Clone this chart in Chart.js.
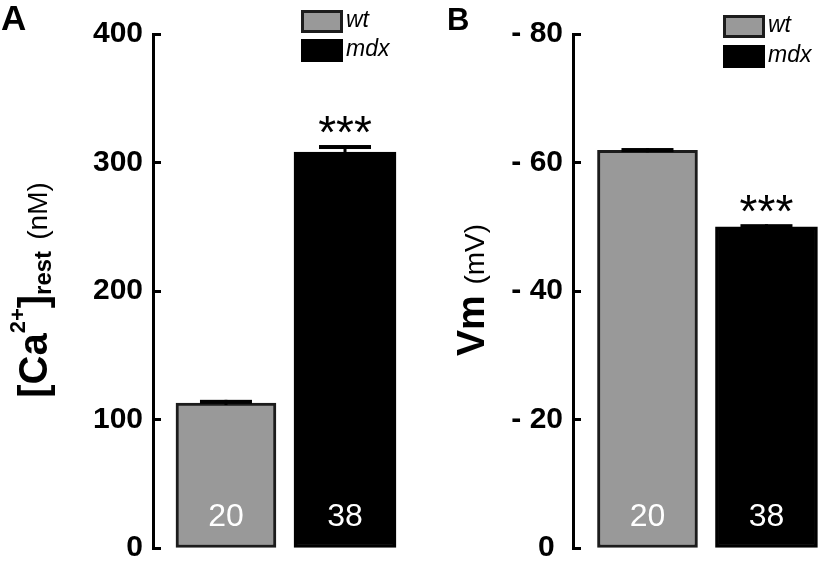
<!DOCTYPE html>
<html>
<head>
<meta charset="utf-8">
<script src="https://cdn.jsdelivr.net/npm/chart.js@4.4.1/dist/chart.umd.min.js"></script>
<style>
  html, body { margin: 0; padding: 0; background: #fff; }
  #wrap { position: relative; width: 820px; height: 561px; overflow: hidden; font-family: "Liberation Sans", Arial, sans-serif; color: #000; }
  canvas { position: absolute; top: 0; }
  #chartA { left: 0; }
  #chartB { left: 410px; }
  .panel { position: absolute; font-weight: bold; line-height: 1; }
  .ytitle { position: absolute; white-space: nowrap; line-height: 1; transform: translate(-50%, -50%) rotate(-90deg); }
  .ytitle .up { position: relative; top: -22px; font-size: 22px; font-weight: bold; }
  .ytitle .down { position: relative; top: 4px; font-size: 24px; font-weight: bold; }
  .ytitle .unit { font-weight: normal; font-size: 28px; }
</style>
</head>
<body>
<div id="wrap">
  <canvas id="chartA" width="410" height="561"></canvas>
  <canvas id="chartB" width="410" height="561"></canvas>
  <div class="panel" style="left:1px;top:0;font-size:35px">A</div>
  <div class="panel" style="left:447px;top:4px;font-size:31px">B</div>
  <div class="ytitle" style="left:33px;top:290px;font-size:40px"><b>[Ca</b><span class="up">2+</span><b>]</b><span class="down">rest</span> <span class="unit">(nM)</span></div>
  <div class="ytitle" style="left:470px;top:290px;font-size:39px"><b>Vm</b> <span class="unit">(mV)</span></div>
</div>
<script>
(function(){
  // data
  const groups = ['wt', 'mdx'];
  const groupPos = [1, 2];
  const nCells = [20, 38];
  const sigMarks = ['', '***'];

  const caMean = [112.8, 308.2];
  const caErr = [2.5, 5.4];
  const caTicks = [0, 100, 200, 300, 400];

  const vmMean = [-61.9, -50.0];
  const vmErr = [0.35, 0.4];
  const vmTicks = [0, -20, -40, -60, -80];

  const fills = ['#999999', '#000000'];
  const edges = ['#1c1c1c', '#000000'];
  const widths = [100, 102];

  // error bars (away from zero only), n inside bar, significance stars
  const barExtras = {
    id: 'barExtras',
    afterDatasetsDraw(chart){
      const ctx = chart.ctx;
      const ys = chart.scales.y;
      chart.data.datasets.forEach((ds, i) => {
        const bar = chart.getDatasetMeta(i).data[0];
        if (!bar) return;
        const mean = ds.data[0].y;
        const tip = mean + Math.sign(mean) * ds.errValue;
        const yTip = ys.getPixelForValue(tip);
        ctx.save();
        ctx.fillStyle = '#000';
        ctx.fillRect(bar.x - 1.5, yTip, 3, bar.y - yTip + 2);
        ctx.fillRect(bar.x - 26, yTip, 52, 4);
        ctx.fillStyle = '#fff';
        ctx.font = '32px "Liberation Sans", Arial, sans-serif';
        ctx.textAlign = 'center';
        ctx.textBaseline = 'middle';
        ctx.fillText(String(ds.nCells), bar.x, bar.base - 30);
        if (ds.sig) {
          ctx.fillStyle = '#000';
          ctx.font = '46px "Liberation Sans", Arial, sans-serif';
          ctx.textBaseline = 'alphabetic';
          ctx.fillText(ds.sig, bar.x, yTip + 3);
        }
        ctx.restore();
      });
    }
  };

  // small boxed legend, stacked in a column
  const boxLegend = {
    id: 'boxLegend',
    afterDraw(chart, args, opts){
      const ctx = chart.ctx;
      chart.data.datasets.forEach((ds, i) => {
        const bx = opts.x, by = opts.y + i * opts.step;
        ctx.save();
        ctx.fillStyle = ds.borderColor;
        ctx.fillRect(bx, by, 42, 23);
        ctx.fillStyle = ds.backgroundColor;
        ctx.fillRect(bx + 3, by + 3, 36, 17);
        ctx.fillStyle = '#000';
        ctx.font = 'italic 23px "Liberation Sans", Arial, sans-serif';
        ctx.textAlign = 'left';
        ctx.textBaseline = 'middle';
        ctx.fillText(ds.label, bx + 45, by + 11);
        ctx.restore();
      });
    }
  };

  function makePanel(id, means, errs, tickVals, cfg){
    const datasets = groups.map((g, i) => ({
      label: g,
      data: [{ x: groupPos[i], y: means[i] }],
      backgroundColor: fills[i],
      borderColor: edges[i],
      borderWidth: 3,
      borderSkipped: false,
      grouped: false,
      barPercentage: 1,
      categoryPercentage: 1,
      maxBarThickness: widths[i],
      errValue: errs[i],
      nCells: nCells[i],
      sig: sigMarks[i],
    }));

    return new Chart(document.getElementById(id), {
      type: 'bar',
      data: { datasets },
      plugins: [barExtras, boxLegend],
      options: {
        responsive: false,
        animation: false,
        devicePixelRatio: 1,
        layout: { padding: { top: 34, bottom: 13, left: 0, right: 0 } },
        plugins: {
          legend: { display: false },
          tooltip: { enabled: false },
          boxLegend: cfg.legend,
        },
        scales: {
          x: {
            type: 'linear',
            display: false,
            offset: false,
            min: cfg.xRange[0],
            max: cfg.xRange[1],
            afterBuildTicks: s => { s.ticks = groupPos.map(v => ({ value: v })); },
          },
          y: {
            min: cfg.yRange[0],
            max: cfg.yRange[1],
            reverse: !!cfg.reverse,
            afterFit: s => { s.width = cfg.axisX; s.paddingTop = 0; s.paddingBottom = 0; },
            afterBuildTicks: s => { s.ticks = tickVals.map(v => ({ value: v })); },
            border: { display: true, color: '#000', width: 3 },
            grid: { drawOnChartArea: false, drawTicks: true, tickLength: -8, tickWidth: 3, tickColor: '#000' },
            ticks: {
              color: '#000',
              padding: 18,
              font: { family: '"Liberation Sans", Arial, sans-serif', size: 30, weight: 'bold', lineHeight: 0.85 },
              callback: cfg.fmt,
            },
          },
        },
      },
    });
  }

  makePanel('chartA', caMean, caErr, caTicks, {
    axisX: 153,
    xRange: [0.387, 2.546],
    yRange: [0, 400],
    legend: { x: 301, y: 10, step: 29 },
    fmt: v => String(v),
  });

  makePanel('chartB', vmMean, vmErr, vmTicks, {
    axisX: 163,
    xRange: [0.374, 2.45],
    yRange: [-80, 0],
    reverse: true,
    legend: { x: 313, y: 15, step: 30 },
    fmt: v => (v === 0 ? '0 ' : '- ' + Math.abs(v)),
  });
})();
</script>
</body>
</html>
